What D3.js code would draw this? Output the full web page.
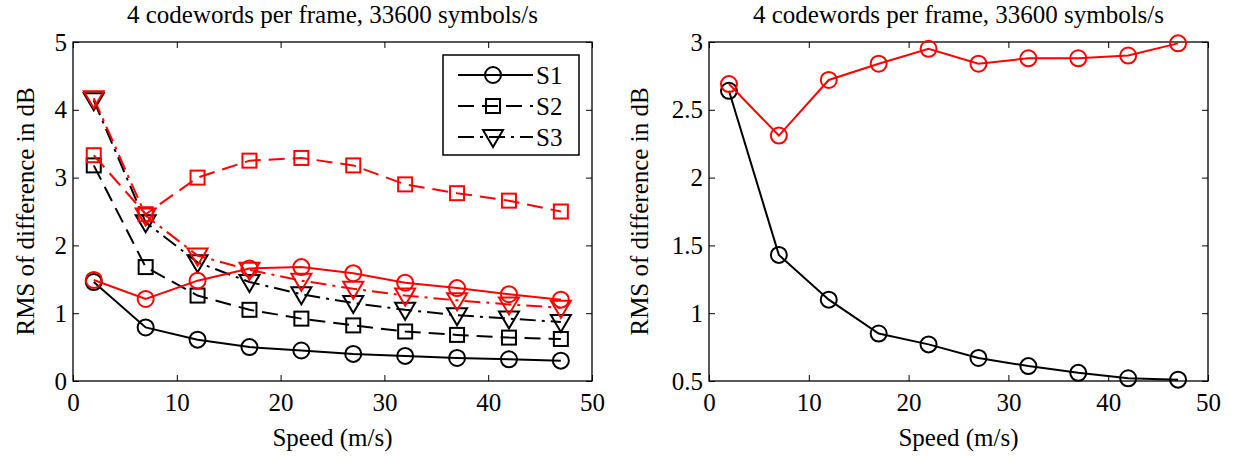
<!DOCTYPE html>
<html>
<head>
<meta charset="utf-8">
<script src="https://cdn.jsdelivr.net/npm/d3@7"></script>
<style>
  body { margin: 0; background: #fff; }
</style>
</head>
<body>
<div id="chart"></div>
<script>
// Data
const speeds = [2, 7, 12, 17, 22, 27, 32, 37, 42, 47];

// left panel
const s1Black = [1.46, 0.79, 0.61, 0.50, 0.45, 0.40, 0.37, 0.34, 0.32, 0.30];
const s1Red   = [1.49, 1.21, 1.48, 1.66, 1.68, 1.59, 1.45, 1.37, 1.28, 1.20];
const s2Black = [3.18, 1.68, 1.26, 1.05, 0.92, 0.82, 0.73, 0.68, 0.64, 0.62];
const s2Red   = [3.33, 2.46, 3.00, 3.25, 3.29, 3.18, 2.90, 2.77, 2.66, 2.50];
const s3Black = [4.14, 2.34, 1.75, 1.46, 1.28, 1.15, 1.05, 0.97, 0.92, 0.87];
const s3Red   = [4.17, 2.44, 1.85, 1.64, 1.48, 1.36, 1.26, 1.19, 1.13, 1.08];

// right panel
const rBlack = [2.64, 1.43, 1.10, 0.85, 0.77, 0.67, 0.61, 0.56, 0.52, 0.51];
const rRed   = [2.69, 2.31, 2.72, 2.84, 2.95, 2.84, 2.88, 2.88, 2.90, 2.99];

const xTicks = [0, 10, 20, 30, 40, 50];
const leftYTicks = [0, 1, 2, 3, 4, 5];
const rightYTicks = [0.5, 1, 1.5, 2, 2.5, 3];
const legendNames = ["S1", "S2", "S3"];

const titleText = "4 codewords per frame, 33600 symbols/s";
const serif = "Liberation Serif";
const fontSize = 25;

const W = 1236, H = 461;
const svg = d3.select("#chart").append("svg")
  .attr("width", W)
  .attr("height", H);

// line style per series
const styles = {
  S1: { dash: null, marker: "circle" },
  S2: { dash: "16,8", marker: "square" },
  S3: { dash: "16,6,3,6", marker: "triangle" }
};

function drawMarker(g, type, color) {
  if (type === "circle") {
    g.append("circle").attr("r", 8)
      .attr("fill", "none").attr("stroke", color).attr("stroke-width", 2);
  } else if (type === "square") {
    g.append("rect").attr("x", -7).attr("y", -7)
      .attr("width", 14).attr("height", 14)
      .attr("fill", "none").attr("stroke", color).attr("stroke-width", 2);
  } else {
    g.append("path").attr("d", "M-10,-7L10,-7L0,10Z")
      .attr("fill", "none").attr("stroke", color).attr("stroke-width", 2);
  }
}

function label(sel) {
  return sel.attr("font-family", serif).attr("font-size", fontSize).attr("fill", "#000");
}

function styleTicks(a) {
  a.attr("font-family", serif).attr("font-size", fontSize);
  a.select(".domain").remove();
}

function drawPanel(opts) {
  const left = opts.left, top = 42, width = opts.width, height = 339;
  const g = svg.append("g").attr("transform", `translate(${left},${top})`);

  const x = d3.scaleLinear().domain([0, 50]).range([0, width]);
  const y = d3.scaleLinear().domain(opts.yDomain).range([height, 0]);

  // title
  g.append("text")
    .attr("x", width / 2)
    .attr("y", -19)
    .attr("text-anchor", "middle")
    .call(label)
    .text(titleText);

  // axes with inward ticks on all four sides
  g.append("g")
    .attr("transform", `translate(0,${height})`)
    .call(d3.axisBottom(x).tickValues(xTicks).tickSizeInner(-6).tickSizeOuter(0).tickPadding(12))
    .call(styleTicks);
  g.append("g")
    .call(d3.axisTop(x).tickValues(xTicks).tickSizeInner(-6).tickSizeOuter(0).tickFormat(""))
    .call(styleTicks);
  g.append("g")
    .call(d3.axisLeft(y).tickValues(opts.yTicks).tickFormat(d3.format("")).tickSizeInner(-6).tickSizeOuter(0).tickPadding(6))
    .call(styleTicks);
  g.append("g")
    .attr("transform", `translate(${width},0)`)
    .call(d3.axisRight(y).tickValues(opts.yTicks).tickSizeInner(-6).tickSizeOuter(0).tickFormat(""))
    .call(styleTicks);

  g.append("rect")
    .attr("width", width).attr("height", height)
    .attr("fill", "none").attr("stroke", "#000").attr("stroke-width", 1.3);

  // axis labels
  g.append("text")
    .attr("x", width / 2)
    .attr("y", height + 65)
    .attr("text-anchor", "middle")
    .call(label)
    .text("Speed (m/s)");
  g.append("text")
    .attr("transform", `translate(${opts.yLabelX},${height / 2}) rotate(-90)`)
    .attr("text-anchor", "middle")
    .call(label)
    .text("RMS of difference in dB");

  const line = d3.line().x((d, i) => x(speeds[i])).y(d => y(d));

  opts.series.forEach(s => {
    const st = styles[s.name];
    g.append("path")
      .datum(s.values)
      .attr("d", line)
      .attr("fill", "none")
      .attr("stroke", s.color)
      .attr("stroke-width", 2)
      .attr("stroke-dasharray", st.dash);
    g.append("g").selectAll("g")
      .data(s.values)
      .join("g")
      .attr("transform", (d, i) => `translate(${x(speeds[i])},${y(d)})`)
      .each(function () { drawMarker(d3.select(this), st.marker, s.color); });
  });

  return g;
}

const leftPanel = drawPanel({
  left: 73, width: 519, yDomain: [0, 5], yTicks: leftYTicks, yLabelX: -39,
  series: [
    { name: "S1", color: "#000", values: s1Black },
    { name: "S2", color: "#000", values: s2Black },
    { name: "S3", color: "#000", values: s3Black },
    { name: "S1", color: "#f00", values: s1Red },
    { name: "S2", color: "#f00", values: s2Red },
    { name: "S3", color: "#f00", values: s3Red }
  ]
});

drawPanel({
  left: 709, width: 499, yDomain: [0.5, 3], yTicks: rightYTicks, yLabelX: -61,
  series: [
    { name: "S1", color: "#000", values: rBlack },
    { name: "S1", color: "#f00", values: rRed }
  ]
});

// legend in left panel
const legend = leftPanel.append("g").attr("transform", "translate(370,13)");
legend.append("rect")
  .attr("width", 136).attr("height", 100)
  .attr("fill", "#fff").attr("stroke", "#000").attr("stroke-width", 1.5);
legendNames.forEach((name, i) => {
  const row = legend.append("g").attr("transform", `translate(0,${20 + i * 31})`);
  row.append("line")
    .attr("x1", 15).attr("x2", 90)
    .attr("stroke", "#000").attr("stroke-width", 2)
    .attr("stroke-dasharray", styles[name].dash);
  const m = row.append("g").attr("transform", "translate(50,0)");
  drawMarker(m, styles[name].marker, "#000");
  row.append("text")
    .attr("x", 93).attr("y", 9)
    .call(label)
    .text(name);
});
</script>
</body>
</html>
